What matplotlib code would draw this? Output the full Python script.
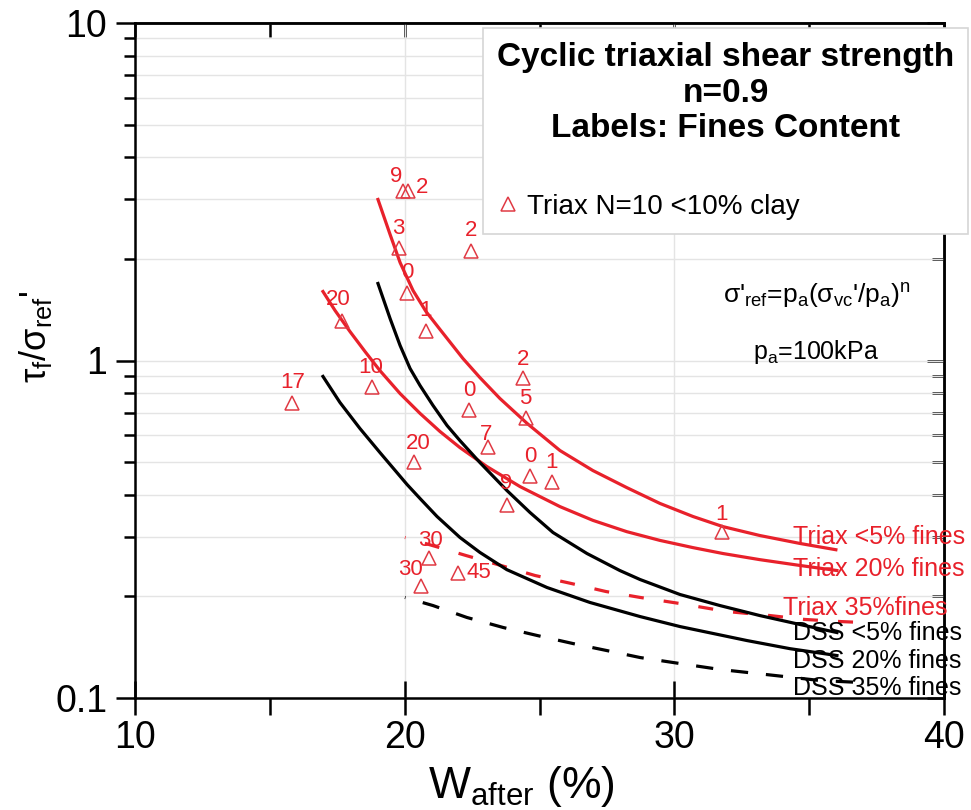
import matplotlib.pyplot as plt
from matplotlib.ticker import FixedLocator, FuncFormatter, NullFormatter, LogLocator

plt.rcParams['font.family'] = ['Liberation Sans', 'DejaVu Sans']
plt.rcParams['mathtext.default'] = 'regular'

# --- data ---
# triax test points: water content after test (%) vs normalised strength, label = fines content
pts_w = [15.83, 17.69, 18.80, 19.95, 20.13, 19.80, 22.46, 20.09, 20.78, 24.39, 24.49,
         22.38, 23.08, 20.36, 24.65, 25.45, 23.78, 31.75, 20.91, 20.59, 21.99]
pts_tau = [0.749, 1.305, 0.833, 3.175, 3.175, 2.157, 2.117, 1.583, 1.221, 0.889, 0.675,
           0.711, 0.556, 0.500, 0.456, 0.436, 0.372, 0.310, 0.260, 0.214, 0.234]
pts_fines = ['17', '20', '10', '9', '2', '3', '2', '0', '1', '2', '5',
             '0', '7', '20', '0', '1', '9', '1', '30', '30', '45']

# trend curves
triax5_w = [19.01, 19.46, 19.83, 20.31, 20.79, 21.31, 22.16, 22.79, 23.53, 24.54,
            25.76, 26.98, 28.24, 29.47, 30.69, 31.80, 33.17, 34.66, 35.99]
triax5_tau = [3.000, 2.362, 1.951, 1.612, 1.397, 1.236, 1.014, 0.890, 0.772, 0.651,
              0.541, 0.472, 0.420, 0.377, 0.345, 0.322, 0.303, 0.287, 0.275]

triax20_w = [16.97, 17.42, 17.97, 18.53, 19.08, 19.83, 20.57, 21.31, 22.05, 23.05,
             24.28, 25.76, 26.98, 28.24, 29.47, 30.69, 31.80, 33.17, 34.66, 36.03]
triax20_tau = [1.601, 1.406, 1.219, 1.063, 0.934, 0.798, 0.697, 0.616, 0.552, 0.485,
               0.423, 0.369, 0.336, 0.311, 0.293, 0.279, 0.268, 0.257, 0.247, 0.2386]

triax35_w = [20.01, 21.16, 22.27, 23.57, 24.83, 26.17, 27.46, 28.73, 30.21, 31.95,
             33.55, 34.84, 36.14, 36.96]
triax35_tau = [0.299, 0.281, 0.2644, 0.247, 0.2307, 0.2185, 0.2068, 0.1986, 0.1905, 0.1804,
               0.1755, 0.1709, 0.1685, 0.1674]

dss5_w = [19.01, 19.46, 19.83, 20.20, 20.57, 21.05, 21.57, 22.05, 22.79, 23.79,
          24.65, 25.50, 26.76, 27.98, 28.73, 30.21, 31.69, 33.17, 34.66, 36.03]
dss5_tau = [1.691, 1.331, 1.108, 0.947, 0.843, 0.736, 0.642, 0.579, 0.4985, 0.412,
            0.3544, 0.3093, 0.268, 0.2386, 0.2244, 0.2026, 0.1879, 0.1755, 0.1651, 0.1563]

dss20_w = [16.97, 17.60, 18.34, 19.08, 20.09, 20.57, 21.20, 22.05, 22.79, 23.79,
           25.28, 26.87, 28.73, 30.21, 32.69, 34.29, 36.03]
dss20_tau = [0.897, 0.751, 0.629, 0.534, 0.429, 0.390, 0.345, 0.299, 0.270, 0.240,
             0.2125, 0.1919, 0.1743, 0.1628, 0.148, 0.140, 0.1336]

dss35_w = [20.01, 21.05, 22.31, 23.65, 24.91, 26.24, 27.50, 28.73, 30.21, 31.69,
           33.73, 35.39, 36.96]
dss35_tau = [0.1986, 0.1879, 0.1732, 0.1618, 0.1532, 0.145, 0.1382, 0.1318, 0.1265, 0.1215,
             0.1166, 0.1127, 0.1111]

curve_names = ['Triax <5% fines', 'Triax 20% fines', 'Triax 35%fines',
               'DSS <5% fines', 'DSS 20% fines', 'DSS 35% fines']

# label placement (pixel offsets from each triangle)
lbl_dx = [0, -4, -2, -7, 14, -1, 0, 0, 0, 0, 0, 0, -2, 4, 0, 0, 0, 0, 1, -10, 21]
lbl_dy = [20, 22, 20, 15, 4, 19, 20, 21, 21, 18, 20, 20, 12, 19, 19, 20, 22, 18, 17, 17, 1]

RED = '#e8212b'
MRED = '#e03a44'

fig = plt.figure(figsize=(9.71, 8.1), dpi=100)
ax = fig.add_axes([135 / 971, 112 / 810, 809 / 971, 675 / 810])
ax.set_yscale('log')
ax.set_xlim(10, 40)
ax.set_ylim(0.1, 10)

lw = 2.3
ax.plot(triax5_w, triax5_tau, color=RED, lw=lw)
ax.plot(triax20_w, triax20_tau, color=RED, lw=lw)
ax.plot(triax35_w, triax35_tau, color=RED, lw=lw, linestyle=(4.5, (4.7, 6.3)))
ax.plot(dss5_w, dss5_tau, color='black', lw=lw)
ax.plot(dss20_w, dss20_tau, color='black', lw=lw)
ax.plot(dss35_w, dss35_tau, color='black', lw=lw, linestyle=(5.2, (5.4, 5.6)))

h, = ax.plot(pts_w, pts_tau, linestyle='none', marker='^', markersize=10,
             markerfacecolor='none', markeredgecolor=MRED, markeredgewidth=1.1)

for w, t, s, dx, dy in zip(pts_w, pts_tau, pts_fines, lbl_dx, lbl_dy):
    ax.annotate(s, (w, t), xytext=(dx, dy), textcoords='offset pixels',
                ha='center', va='center', fontsize=16, color=RED)

# curve names at the right edge
name_w = [34.4, 34.4, 34.03, 34.4, 34.4, 34.4]
name_tau = [0.2996, 0.2419, 0.1842, 0.1553, 0.1291, 0.1074]
name_col = [RED, RED, RED, 'black', 'black', 'black']
for s, w, t, c in zip(curve_names, name_w, name_tau, name_col):
    ax.text(w, t, s, color=c, fontsize=18, ha='left', va='center', clip_on=False)

ax.text(0.843, 0.597, "σ'$_{ref}$=p$_a$(σ$_{vc}$'/p$_a$)$^n$", transform=ax.transAxes,
        ha='center', va='center', fontsize=19)
ax.text(0.842, 0.513, 'p$_a$=100kPa', transform=ax.transAxes,
        ha='center', va='center', fontsize=18)

# axes styling
for sp in ax.spines.values():
    sp.set_linewidth(1.8)
ax.xaxis.set_major_locator(FixedLocator([10, 20, 30, 40]))
ax.xaxis.set_minor_locator(FixedLocator([15, 25, 35]))
ax.yaxis.set_major_locator(FixedLocator([0.1, 1, 10]))
ax.yaxis.set_minor_locator(LogLocator(base=10, subs=range(2, 10)))
ax.yaxis.set_major_formatter(FuncFormatter(lambda v, p: f'{v:g}'))
ax.yaxis.set_minor_formatter(NullFormatter())
ax.tick_params(axis='x', which='major', direction='inout', length=24, width=1.8,
               labelsize=27, pad=4)
ax.tick_params(axis='x', which='minor', direction='out', length=12, width=1.8)
ax.tick_params(axis='y', which='major', direction='out', length=14, width=1.8,
               labelsize=27, pad=6)
ax.tick_params(axis='y', which='minor', direction='out', length=8, width=1.8)

top = ax.secondary_xaxis('top')
top.xaxis.set_major_locator(FixedLocator([10, 20, 30, 40]))
top.xaxis.set_minor_locator(FixedLocator([15, 25, 35]))
top.tick_params(which='both', direction='in', length=10, width=1.8, labeltop=False)
top.spines['top'].set_linewidth(1.8)

right = ax.secondary_yaxis('right')
right.yaxis.set_major_locator(FixedLocator([0.1, 1, 10]))
right.yaxis.set_minor_locator(LogLocator(base=10, subs=range(2, 10)))
right.tick_params(which='major', direction='in', length=12, width=1.8, labelright=False)
right.tick_params(which='minor', direction='in', length=9, width=1.8, labelright=False)
right.yaxis.set_minor_formatter(NullFormatter())
right.spines['right'].set_linewidth(1.8)

ax.set_axisbelow(True)
ax.grid(True, which='both', axis='y', color='#e4e4e4', lw=1.0)
ax.grid(True, which='major', axis='x', color='#e4e4e4', lw=1.0)

ax.set_xlabel('W$_{after}$ (%)', fontsize=32)
ax.xaxis.set_label_coords(0.478, -0.098)
ax.set_ylabel("τ$_f$/σ$_{ref}$'", fontsize=26)
ax.yaxis.set_label_coords(-0.1, 0.535)

leg = ax.legend([h], ['Triax N=10 <10% clay'],
                title='Cyclic triaxial shear strength\nn=0.9\nLabels: Fines Content\n',
                title_fontproperties={'weight': 'bold', 'size': 24},
                loc='upper right', bbox_to_anchor=(968 / 971, 1 - 28 / 810),
                bbox_transform=fig.transFigure, borderaxespad=0, fancybox=False,
                edgecolor='#d6d6d6', framealpha=1, fontsize=20, handlelength=0.8,
                handletextpad=0.3, borderpad=0.5, alignment='left')
leg.get_title().set_multialignment('center')
leg.get_frame().set_linewidth(1.2)

fig.savefig('out.png', dpi=100)
